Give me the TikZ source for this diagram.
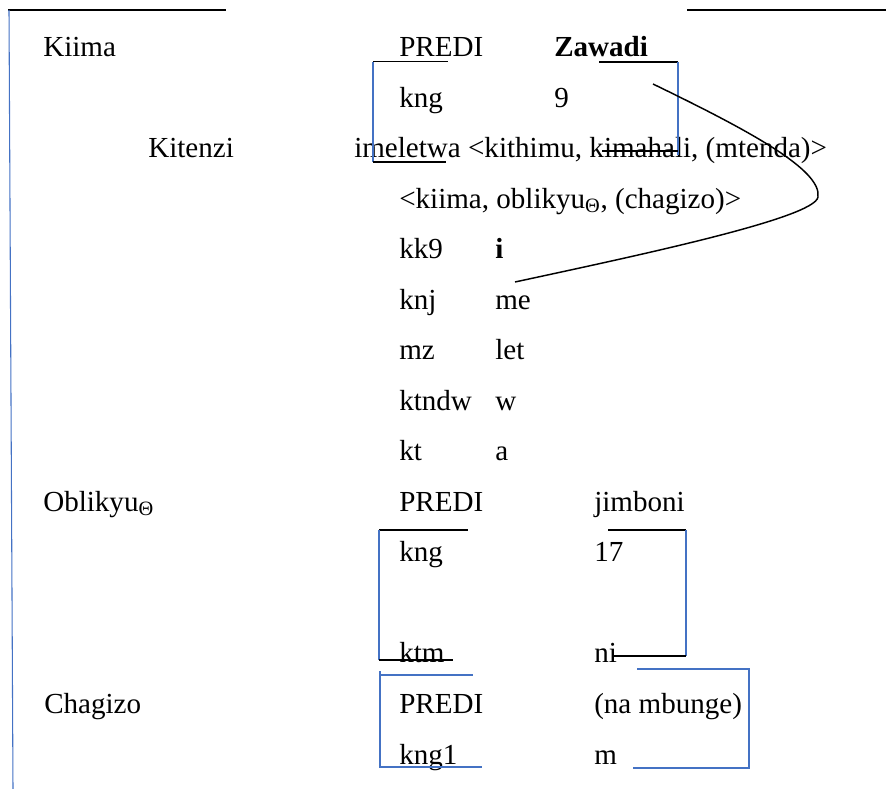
\documentclass[tikz,border=0pt]{standalone}
\usepackage{fontspec}
\setmainfont{Liberation Serif}
\definecolor{rule}{HTML}{4472C4}
\begin{document}
\begin{tikzpicture}[x=0.75pt,y=-0.75pt,
  txt/.style={anchor=base west,inner sep=0pt,font=\fontsize{21.8}{26}\selectfont},
  bar/.style={line width=1pt,black},
  blueline/.style={line width=0.8pt,rule},
  link/.style={line width=1.1pt,black}]
\useasboundingbox (0,0) rectangle (886,789);
% page rules and margin
\draw[bar] (8,10) -- (226,10);
\draw[bar] (687,10) -- (886,10);
\draw[blueline] (9,10) -- (13,789);
% Kiima / Kitenzi block
\node[txt] (kiima) at (43,56) {Kiima};
\node[txt] (predi1) at (399,56) {PREDI};
\node[txt] (zawadi) at (554,56) {\textbf{Zawadi}};
\node[txt] (kng1) at (399,107) {kng};
\node[txt] (nine) at (554,107) {9};
\node[txt] (kitenzi) at (148,157) {Kitenzi};
\node[txt] (verb) at (354,157) {imeletwa \textless kithimu, kimahali, (mtenda)\textgreater};
\node[txt] (args) at (399,208) {\textless kiima, oblikyu\textsubscript{Θ}, (chagizo)\textgreater};
\node[txt] (kk9) at (399,258) {kk9};
\node[txt] (mi) at (495,258) {\textbf{i}};
\node[txt] (knj) at (399,309) {knj};
\node[txt] (mme) at (495,309) {me};
\node[txt] (mz) at (399,359) {mz};
\node[txt] (mlet) at (495,359) {let};
\node[txt] (ktndw) at (399,410) {ktndw};
\node[txt] (mw) at (495,410) {w};
\node[txt] (kt) at (399,460) {kt};
\node[txt] (ma) at (495,460) {a};
% Oblikyu block
\node[txt] (obl) at (43,511) {Oblikyu\textsubscript{Θ}};
\node[txt] (predi2) at (399,511) {PREDI};
\node[txt] (jimboni) at (594,511) {jimboni};
\node[txt] (kng2) at (399,561) {kng};
\node[txt] (n17) at (594,561) {17};
\node[txt] (ktm) at (399,662) {ktm};
\node[txt] (ni) at (594,662) {ni};
% Chagizo block
\node[txt] (chag) at (44,713) {Chagizo};
\node[txt] (predi3) at (399,713) {PREDI};
\node[txt] (mbunge) at (594,713) {(na mbunge)};
\node[txt] (kng3) at (399,764) {kng1};
\node[txt] (mm) at (594,764) {m};
% bracket around kng 9
\draw[bar] (373,61.5) -- (448,61.5);
\draw[bar] (599,62) -- (678,62);
\draw[blueline] (373,62) -- (373,162);
\draw[blueline] (678,62) -- (678,155);
\draw[bar] (373,162) -- (446,162);
\draw[bar] (602,151) -- (678,151);
% bracket around kng 17 / ktm ni
\draw[bar] (379,530) -- (468,530);
\draw[bar] (608,530) -- (686,530);
\draw[blueline] (379,530) -- (379,660);
\draw[blueline] (686,530) -- (686,656);
\draw[bar] (379,660) -- (453,660);
\draw[bar] (612,656) -- (686,656);
% bracket around PREDI kng1 / (na mbunge) m
\draw[blueline] (380,675) -- (473,675);
\draw[blueline] (380,671) -- (380,767) -- (482,767);
\draw[blueline] (637,669) -- (749,669) -- (749,768) -- (633,768);
% link from the 9 slot to the i slot
\coordinate (cs) at (653,84);
\coordinate (ce) at (515,282);
\draw[link] (cs) .. controls (750,131) and (822,170) .. (818,197)
  .. controls (815,218) and (640,255) .. (ce);
\end{tikzpicture}
\end{document}
